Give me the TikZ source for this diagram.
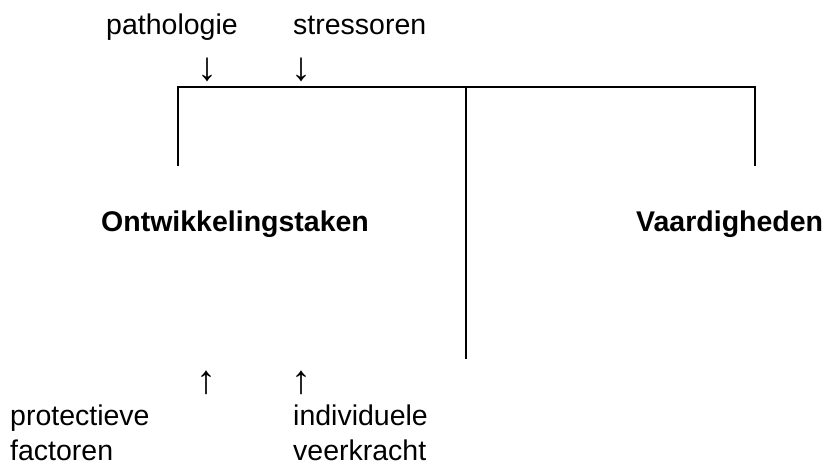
\documentclass[tikz,border=0pt]{standalone}
\usepackage{fontspec}
\setmainfont{Liberation Sans}
\begin{document}
\begin{tikzpicture}[x=1pt,y=-1pt,
  word/.style={font=\fontsize{28.5}{35}\selectfont, inner sep=0pt, align=left},
  head/.style={word, font=\fontsize{28.5}{35}\selectfont\bfseries},
  pijl/.style={word, font=\fontsize{40}{40}\selectfont},
  bar/.style={line width=2.3pt}]
  \useasboundingbox (0,0) rectangle (827,465);
  % invloeden boven
  \node[word, anchor=base west] (patho) at (106,35) {pathologie};
  \node[word, anchor=base west] (stress) at (293,35) {stressoren};
  \node[pijl, anchor=base] (pdown) at (207,81) {↓};
  \node[pijl, anchor=base] (sdown) at (301,81) {↓};
  % de lijnen
  \coordinate (tl) at (178,87);
  \coordinate (tm) at (466,87);
  \coordinate (tr) at (755,87);
  \coordinate (bl) at (178,166);
  \coordinate (bm) at (466,359);
  \coordinate (br) at (755,166);
  \draw[bar] (bl) -- (tl) -- (tr) -- (br);
  \draw[bar] (tm) -- (bm);
  % de takken
  \node[head, anchor=base west] (ontw) at (101,231) {Ontwikkelingstaken};
  \node[head, anchor=base west] (vaard) at (636,231) {Vaardigheden};
  % invloeden onder
  \node[pijl, anchor=base] (pup) at (206,393) {↑};
  \node[pijl, anchor=base] (iup) at (301,393) {↑};
  \node[word, anchor=base west] (prot) at (10,460) {protectieve\\factoren};
  \node[word, anchor=base west] (indiv) at (293,460) {individuele\\veerkracht};
\end{tikzpicture}
\end{document}
